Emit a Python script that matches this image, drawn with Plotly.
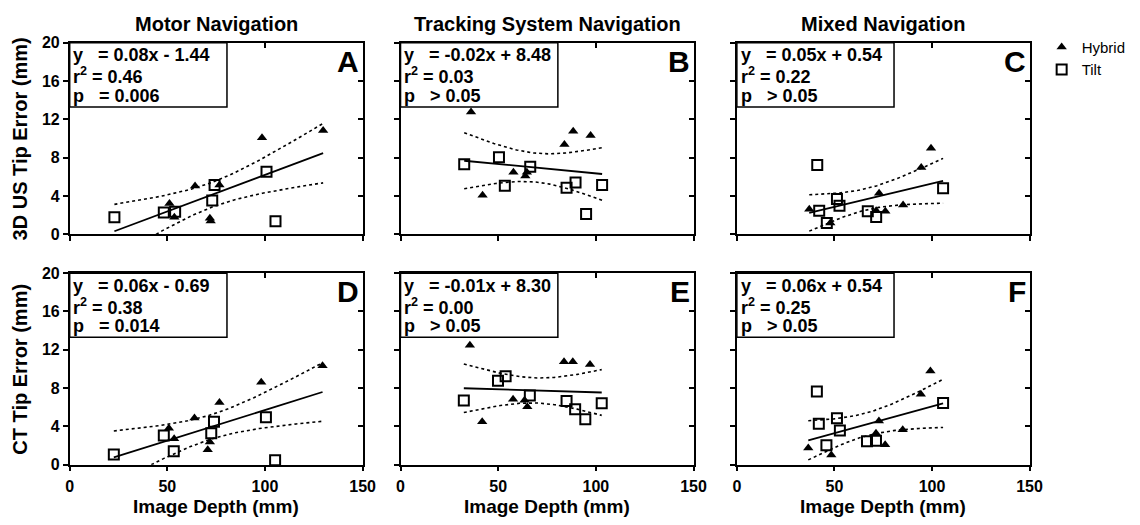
import numpy as np
import plotly.graph_objects as go

# ---------------- data (Image depth in mm, tip error in mm) ----------------
# Panel A: Motor navigation, 3D US tip error
hyb_x_A = [129.8, 98.5, 64.2, 76.7, 51.1, 53.6, 71.8, 72.2]
hyb_y_A = [10.84, 10.1, 5.05, 5.15, 3.24, 1.8, 1.7, 1.4]
tilt_x_A = [22.9, 48.2, 54.0, 73.0, 74.2, 100.8, 105.4]
tilt_y_A = [1.8, 2.3, 2.37, 3.55, 5.15, 6.55, 1.37]

# Panel B: Tracking system navigation, 3D US tip error
hyb_x_B = [36.1, 42.0, 57.8, 63.9, 64.7, 83.9, 88.4, 97.3]
hyb_y_B = [12.78, 4.08, 6.49, 6.09, 6.49, 9.4, 10.77, 10.33]
tilt_x_B = [32.6, 50.4, 53.4, 66.4, 85.0, 89.6, 95.0, 103.2]
tilt_y_B = [7.32, 8.06, 5.08, 7.06, 4.88, 5.42, 2.14, 5.15]

# Panel C: Mixed navigation, 3D US tip error
hyb_x_C = [37.1, 47.9, 72.9, 71.4, 76.1, 85.2, 94.5, 99.5]
hyb_y_C = [2.64, 1.20, 4.31, 2.47, 2.41, 3.08, 6.99, 9.0]
tilt_x_C = [41.2, 42.2, 46.1, 51.3, 52.6, 67.1, 71.4, 105.7]
tilt_y_C = [7.26, 2.47, 1.20, 3.71, 2.98, 2.41, 1.81, 4.82]

# Panel D: Motor navigation, CT tip error
hyb_x_D = [129.5, 98.1, 76.7, 63.9, 50.8, 53.5, 71.8, 70.7]
hyb_y_D = [10.33, 8.6, 6.5, 4.88, 3.81, 2.71, 2.37, 1.57]
tilt_x_D = [22.6, 48.2, 53.3, 72.5, 73.9, 100.5, 105.2]
tilt_y_D = [1.07, 3.04, 1.40, 3.28, 4.48, 4.95, 0.47]

# Panel E: Tracking system navigation, CT tip error
hyb_x_E = [35.5, 41.8, 57.6, 63.5, 64.9, 83.7, 88.2, 97.0]
hyb_y_E = [12.47, 4.48, 6.82, 6.72, 6.05, 10.74, 10.74, 10.47]
tilt_x_E = [32.4, 49.9, 53.8, 66.2, 85.0, 89.4, 94.6, 103.0]
tilt_y_E = [6.69, 8.76, 9.23, 7.22, 6.66, 5.79, 4.75, 6.42]

# Panel F: Mixed navigation, CT tip error
hyb_x_F = [36.6, 48.4, 72.8, 71.3, 76.0, 85.0, 94.3, 99.2]
hyb_y_F = [1.74, 1.0, 4.55, 3.28, 2.07, 3.65, 7.36, 9.77]
tilt_x_F = [41.0, 42.0, 45.9, 51.3, 52.8, 66.7, 71.3, 105.7]
tilt_y_F = [7.63, 4.28, 2.04, 4.85, 3.58, 2.44, 2.51, 6.45]

panel_letters = ["A", "B", "C", "D", "E", "F"]
eq_text = ["= 0.08x - 1.44", "= -0.02x + 8.48", "= 0.05x + 0.54",
           "= 0.06x - 0.69", "= -0.01x + 8.30", "= 0.06x + 0.54"]
r2_text = ["= 0.46", "= 0.03", "= 0.22", "= 0.38", "= 0.00", "= 0.25"]
p_text = ["= 0.006", "> 0.05", "> 0.05", "= 0.014", "> 0.05", "> 0.05"]
col_titles = ["Motor Navigation", "Tracking System Navigation", "Mixed Navigation"]
row_titles = ["3D US Tip Error (mm)", "CT Tip Error (mm)"]
x_title = "Image Depth (mm)"
x_ticks = [0, 50, 100, 150]
y_ticks = [0, 4, 8, 12, 16, 20]
# two-sided 95% Student t critical values by degrees of freedom
t_crit = {12: 2.179, 13: 2.160, 14: 2.145, 15: 2.131}

panels = [
    (hyb_x_A, hyb_y_A, tilt_x_A, tilt_y_A),
    (hyb_x_B, hyb_y_B, tilt_x_B, tilt_y_B),
    (hyb_x_C, hyb_y_C, tilt_x_C, tilt_y_C),
    (hyb_x_D, hyb_y_D, tilt_x_D, tilt_y_D),
    (hyb_x_E, hyb_y_E, tilt_x_E, tilt_y_E),
    (hyb_x_F, hyb_y_F, tilt_x_F, tilt_y_F),
]

# ---------------- layout geometry ----------------
FONT = "Liberation Sans, Arial, Helvetica, sans-serif"
col_dom = [[0.0585, 0.3193], [0.3531, 0.6140], [0.6526, 0.9132]]
row_dom = [[0.5543, 0.9314], [0.1010, 0.4781]]

fig = go.Figure()
layout = dict(
    width=1140, height=525, margin=dict(l=0, r=0, t=0, b=0),
    plot_bgcolor="white", paper_bgcolor="white",
    font=dict(family=FONT, color="black"),
    showlegend=True,
    legend=dict(x=0.924, y=0.955, xanchor="left", yanchor="top",
                font=dict(family=FONT, size=15, color="black"),
                bgcolor="rgba(0,0,0,0)", tracegroupgap=0, itemwidth=30),
)
annotations = []
shapes = []

tickfont = dict(family=FONT, size=16, color="black", weight="bold")
nb = "\u00a0"

for i, (hx, hy, tx, ty) in enumerate(panels):
    r, c = divmod(i, 3)
    n = i + 1
    xs = "" if n == 1 else str(n)
    xa, ya = "x" + xs, "y" + xs
    xo, yo = "x" + str(n + 6), "y" + str(n + 6)

    layout["xaxis" + xs] = dict(
        domain=col_dom[c], anchor=ya, range=[0, 150], tickvals=x_ticks,
        ticks="outside", ticklen=5, tickwidth=1.5, tickcolor="black",
        showline=True, linewidth=1.5, linecolor="black", mirror=True,
        showgrid=False, zeroline=False, showticklabels=(r == 1),
        ticklabelstandoff=1,
        tickfont=tickfont, fixedrange=True)
    layout["yaxis" + xs] = dict(
        domain=row_dom[r], anchor=xa, range=[0, 20], tickvals=y_ticks,
        ticks="outside", ticklen=5, tickwidth=1.5, tickcolor="black",
        showline=True, linewidth=1.5, linecolor="black", mirror=True,
        showgrid=False, zeroline=False, showticklabels=(c == 0),
        tickfont=tickfont, fixedrange=True)
    # overlay axes for inward ticks on top and right
    layout["xaxis" + str(n + 6)] = dict(
        overlaying=xa, side="top", anchor=ya, range=[0, 150], tickvals=x_ticks,
        ticks="inside", ticklen=5, tickwidth=1.5, tickcolor="black",
        showline=False, showgrid=False, zeroline=False, showticklabels=False,
        fixedrange=True)
    layout["yaxis" + str(n + 6)] = dict(
        overlaying=ya, side="right", anchor=xa, range=[0, 20], tickvals=y_ticks,
        ticks="inside", ticklen=5, tickwidth=1.5, tickcolor="black",
        showline=False, showgrid=False, zeroline=False, showticklabels=False,
        fixedrange=True)
    fig.add_trace(go.Scatter(x=[None], y=[None], xaxis=xo, yaxis=yo,
                             showlegend=False, hoverinfo="skip"))

    # regression + 95% confidence band on pooled data
    X = np.array(hx + tx, dtype=float)
    Y = np.array(hy + ty, dtype=float)
    N = len(X)
    slope, icpt = np.polyfit(X, Y, 1)
    resid = Y - (icpt + slope * X)
    s = np.sqrt(np.sum(resid ** 2) / (N - 2))
    xbar = X.mean()
    sxx = np.sum((X - xbar) ** 2)
    xl = np.linspace(X.min(), X.max(), 80)
    yl = icpt + slope * xl
    hw = t_crit[N - 2] * s * np.sqrt(1.0 / N + (xl - xbar) ** 2 / sxx)

    for band in (yl + hw, yl - hw):
        fig.add_trace(go.Scatter(x=xl, y=band, mode="lines", xaxis=xa, yaxis=ya,
                                 line=dict(color="black", width=1.6, dash="dot"),
                                 showlegend=False, hoverinfo="skip"))
    fig.add_trace(go.Scatter(x=xl, y=yl, mode="lines", xaxis=xa, yaxis=ya,
                             line=dict(color="black", width=1.8),
                             showlegend=False, hoverinfo="skip"))
    fig.add_trace(go.Scatter(x=hx, y=hy, mode="markers", xaxis=xa, yaxis=ya,
                             name="Hybrid", showlegend=(i == 0),
                             marker=dict(symbol="triangle-up", size=9, color="black",
                                         line=dict(width=0)),
                             cliponaxis=False))
    fig.add_trace(go.Scatter(x=tx, y=ty, mode="markers", xaxis=xa, yaxis=ya,
                             name="Tilt", showlegend=(i == 0),
                             marker=dict(symbol="square-open", size=10, color="black",
                                         line=dict(width=2, color="black")),
                             cliponaxis=False))

    # stats box
    shapes.append(dict(type="rect", xref=xa + " domain", yref=ya + " domain",
                       x0=0, x1=0.537, y0=0.665, y1=1, layer="above",
                       line=dict(color="black", width=1.5), fillcolor="white"))
    lines = [f"y{nb}{nb} {eq_text[i]}",
             f"r<sup>2</sup> {r2_text[i]}",
             f"p{nb}{nb} {p_text[i]}"]
    for k, (ln, yy) in enumerate(zip(lines, [0.935, 0.827, 0.724])):
        annotations.append(dict(text=ln, xref=xa + " domain", yref=ya + " domain",
                                x=0.006, y=yy, xanchor="left", yanchor="middle",
                                align="left", showarrow=False,
                                font=dict(family=FONT, size=18, color="black",
                                          weight="bold")))
    annotations.append(dict(text=panel_letters[i], xref=xa + " domain", yref=ya + " domain",
                            x=0.995, y=0.905, xanchor="right", yanchor="middle",
                            showarrow=False,
                            font=dict(family=FONT, size=30, color="black", weight="bold")))

# column titles
for c, t in enumerate(col_titles):
    annotations.append(dict(text=t, xref="paper", yref="paper",
                            x=sum(col_dom[c]) / 2, y=1 - 17 / 525,
                            xanchor="center", yanchor="middle", showarrow=False,
                            font=dict(family=FONT, size=20, color="black", weight="bold")))
# row (y-axis) titles
for r, t in enumerate(row_titles):
    annotations.append(dict(text=t, xref="paper", yref="paper",
                            x=16 / 1140, y=sum(row_dom[r]) / 2, textangle=-90,
                            xanchor="center", yanchor="middle", showarrow=False,
                            font=dict(family=FONT, size=20, color="black", weight="bold")))
# x-axis titles
for c in range(3):
    annotations.append(dict(text=x_title, xref="paper", yref="paper",
                            x=sum(col_dom[c]) / 2, y=1 - 515 / 525,
                            xanchor="center", yanchor="middle", showarrow=False,
                            font=dict(family=FONT, size=19, color="black", weight="bold")))

layout["annotations"] = annotations
layout["shapes"] = shapes
fig.update_layout(**layout)
fig.write_html("out.html")
